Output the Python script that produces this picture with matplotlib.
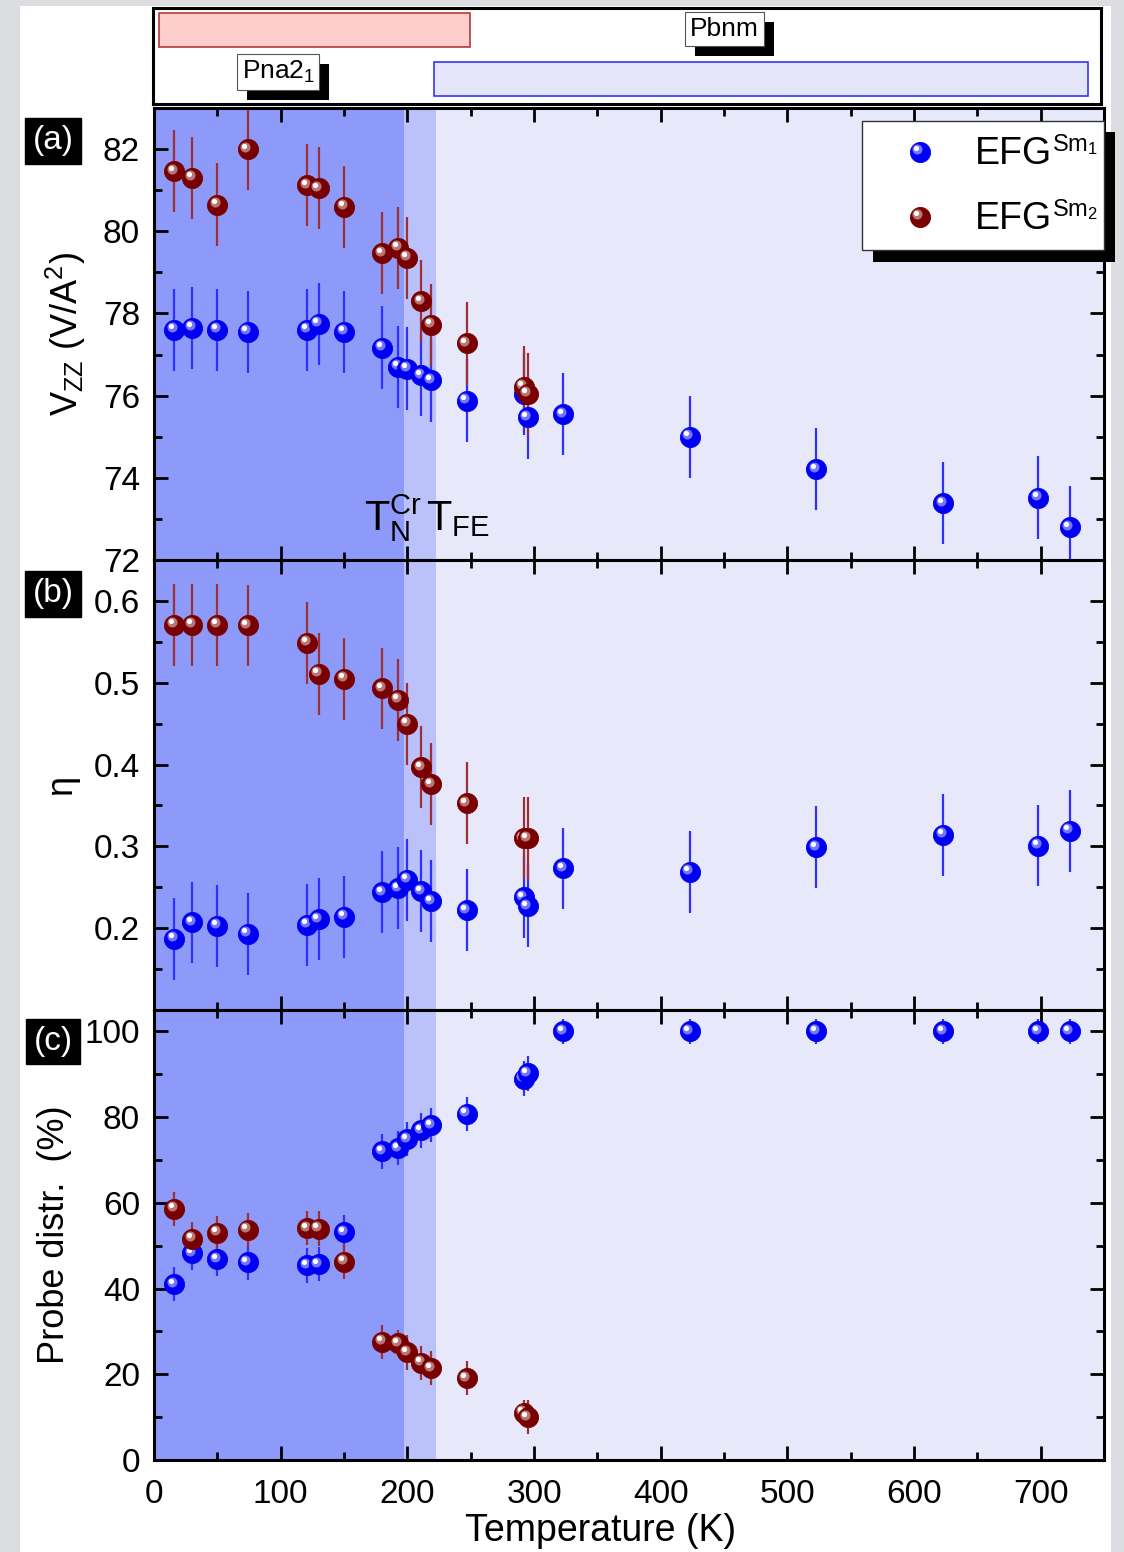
import matplotlib
matplotlib.use("Agg")
import matplotlib.pyplot as plt
from matplotlib.patches import Rectangle
from matplotlib.transforms import offset_copy
from matplotlib.ticker import MultipleLocator

plt.rcParams['font.family'] = ['Liberation Sans', 'DejaVu Sans']
plt.rcParams['mathtext.default'] = 'regular'

# ---------------- data ----------------
temp_sm1 = [16, 30, 50, 74, 121, 130, 150, 180, 193, 200, 211, 219, 247,
            292, 295, 323, 423, 523, 623, 698, 723]
temp_sm2 = [16, 30, 50, 74, 121, 130, 150, 180, 193, 200, 211, 219, 247,
            292, 295]

vzz_sm1 = [77.60, 77.65, 77.60, 77.55, 77.60, 77.75, 77.55, 77.17, 76.70,
           76.66, 76.50, 76.37, 75.88, 76.04, 75.47, 75.55, 75.00, 74.21,
           73.38, 73.52, 72.80]
vzz_sm1_err = [1.0] * 21
vzz_sm2 = [81.46, 81.30, 80.65, 82.00, 81.12, 81.05, 80.60, 79.47, 79.60,
           79.35, 78.30, 77.72, 77.27, 76.22, 76.04]
vzz_sm2_err = [1.0] * 15

eta_sm1 = [0.187, 0.207, 0.203, 0.193, 0.204, 0.211, 0.214, 0.244, 0.249,
           0.259, 0.245, 0.233, 0.222, 0.238, 0.227, 0.273, 0.269, 0.299,
           0.314, 0.301, 0.319]
eta_sm1_err = [0.05] * 21
eta_sm2 = [0.571, 0.571, 0.571, 0.570, 0.549, 0.511, 0.505, 0.493, 0.479,
           0.450, 0.397, 0.376, 0.353, 0.310, 0.310]
eta_sm2_err = [0.05] * 15

frac_sm1 = [41.0, 48.3, 46.9, 46.1, 45.4, 45.7, 53.2, 72.0, 72.8, 74.9,
            76.9, 78.1, 80.8, 89.0, 90.2, 100, 100, 100, 100, 100, 100]
frac_sm1_err = [4, 4, 4, 4, 4, 4, 4, 4, 4, 4, 4, 4, 4, 4, 4, 3, 3, 3, 3, 3, 3]
frac_sm2 = [58.6, 51.6, 53.0, 53.7, 54.1, 54.0, 46.3, 27.6, 27.3, 25.1,
            22.7, 21.4, 19.1, 11.0, 10.0]
frac_sm2_err = [4, 4, 4, 4, 4, 4, 4, 4, 3, 4, 4, 4, 4, 3, 4]

# transition temperatures (K)
t_neel = 197
t_fe = 223

# structural phases: name, temperature range, label position
phase_names = ['Pna2$_1$', 'Pbnm']
phase_tmin = [5, 222]
phase_tmax = [251, 740]
phase_label_t = [99, 452]

# ---------------- style ----------------
BLUE = '#0000F2'
BLUE_MID = '#8A8AFF'
BLUE_ERR = '#2F2FFF'
RED = '#780000'
RED_MID = '#C88A8A'
RED_ERR = '#9E2F35'
BG_DARK = '#8E9AFA'
BG_MID = '#BAC1FB'
BG_LIGHT = '#E8E8FB'

W, H = 1124, 1552
fig = plt.figure(figsize=(W / 100, H / 100), dpi=100, facecolor='#DCDDE0')
fig.patches.append(Rectangle((20 / W, 0), (1111 - 20) / W, 1 - 6 / H,
                             transform=fig.transFigure, facecolor='white',
                             edgecolor='none', zorder=-10))


def fax(x0, y0, x1, y1):
    return fig.add_axes([x0 / W, 1 - y1 / H, (x1 - x0) / W, (y1 - y0) / H])


ax_ph = fax(153, 8, 1101, 104)
ax_a = fax(154, 108, 1104, 560)
ax_b = fax(154, 560, 1104, 1010)
ax_c = fax(154, 1010, 1104, 1460)


def spheres(ax, x, y, base, mid, ms=14.5, z0=6.0, transform=None):
    tr = ax.transData if transform is None else transform
    for i, (xi, yi) in enumerate(zip(x, y)):
        z = z0 + i * 0.01
        ax.plot([xi], [yi], ls='none', marker='o', ms=ms, mfc=base, mec=base,
                mew=0.6, transform=tr, zorder=z, clip_on=False)
        t1 = offset_copy(tr, fig=fig, x=-2.5, y=2.5, units='dots')
        ax.plot([xi], [yi], ls='none', marker='o', ms=ms * 0.5, mfc=mid,
                mec='none', alpha=0.85, transform=t1, zorder=z + 0.001,
                clip_on=False)
        t2 = offset_copy(tr, fig=fig, x=-3.5, y=3.5, units='dots')
        ax.plot([xi], [yi], ls='none', marker='o', ms=ms * 0.26, mfc='white',
                mec='none', transform=t2, zorder=z + 0.002, clip_on=False)


def style_axis(ax, ymaj, ymin):
    ax.set_facecolor(BG_LIGHT)
    ax.axvspan(0, t_neel, color=BG_DARK, lw=0, zorder=0)
    ax.axvspan(t_neel, t_fe, color=BG_MID, lw=0, zorder=0)
    ax.set_xlim(0, 750)
    ax.xaxis.set_major_locator(MultipleLocator(100))
    ax.xaxis.set_minor_locator(MultipleLocator(50))
    ax.yaxis.set_major_locator(MultipleLocator(ymaj))
    ax.yaxis.set_minor_locator(MultipleLocator(ymin))
    ax.tick_params(which='both', direction='in', top=True, right=True,
                   width=2.0, labelsize=24)
    ax.tick_params(axis='y', pad=10)
    ax.tick_params(axis='x', pad=14)
    ax.tick_params(which='major', length=10)
    ax.tick_params(which='minor', length=5.5)
    for s in ax.spines.values():
        s.set_linewidth(2.2)
        s.set_zorder(20)


def draw_series(ax, y1, e1, y2, e2):
    ax.errorbar(temp_sm1, y1, yerr=e1, fmt='none', ecolor=BLUE_ERR,
                elinewidth=1.6, capsize=0, zorder=3)
    ax.errorbar(temp_sm2, y2, yerr=e2, fmt='none', ecolor=RED_ERR,
                elinewidth=1.6, capsize=0, zorder=3)
    spheres(ax, temp_sm1, y1, BLUE, BLUE_MID, z0=6.0)
    spheres(ax, temp_sm2, y2, RED, RED_MID, z0=7.0)


# ---- panel (a): Vzz ----
style_axis(ax_a, 2, 1)
ax_a.set_ylim(72, 83)
draw_series(ax_a, vzz_sm1, vzz_sm1_err, vzz_sm2, vzz_sm2_err)
ax_a.set_ylabel('V$_{ZZ}$ (V/A$^2$)', fontsize=26)
ax_a.yaxis.set_label_coords(-0.07, 0.5)
ax_a.tick_params(labelbottom=False)
ax_a.text(166, 72.73, 'T$_N^{Cr}$', fontsize=30, ha='left', va='baseline',
          zorder=15)
ax_a.text(215, 72.73, 'T$_{FE}$', fontsize=30, ha='left', va='baseline',
          zorder=15)

# legend with drop shadow
tA = ax_a.transAxes
ax_a.add_patch(Rectangle((0.757, 0.660), 0.255, 0.286, transform=tA,
                         facecolor='black', edgecolor='none', zorder=30,
                         clip_on=False))
ax_a.add_patch(Rectangle((0.745, 0.686), 0.255, 0.286, transform=tA,
                         facecolor='white', edgecolor='#333333', lw=1.0,
                         zorder=31, clip_on=False))
spheres(ax_a, [0.806], [0.903], BLUE, BLUE_MID, z0=32, transform=tA)
spheres(ax_a, [0.806], [0.759], RED, RED_MID, z0=32, transform=tA)
for ly, sub in ((0.877, '1'), (0.733, '2')):
    t_efg = ax_a.text(0.864, ly, 'EFG', transform=tA, fontsize=27,
                      ha='left', va='baseline', zorder=33)
    ax_a.annotate('Sm$_' + sub + '$', xy=(1.0, 0.56), xycoords=t_efg,
                  fontsize=17, ha='left', va='baseline', zorder=33,
                  annotation_clip=False)

# ---- panel (b): eta ----
style_axis(ax_b, 0.1, 0.05)
ax_b.set_ylim(0.1, 0.65)
ax_b.set_yticks([0.2, 0.3, 0.4, 0.5, 0.6])
draw_series(ax_b, eta_sm1, eta_sm1_err, eta_sm2, eta_sm2_err)
ax_b.set_ylabel('η', fontsize=26)
ax_b.yaxis.set_label_coords(-0.079, 0.5)
ax_b.tick_params(labelbottom=False)

# ---- panel (c): probe distribution ----
style_axis(ax_c, 20, 10)
ax_c.set_ylim(0, 105)
draw_series(ax_c, frac_sm1, frac_sm1_err, frac_sm2, frac_sm2_err)
ax_c.set_ylabel('Probe distr.  (%)', fontsize=26)
ax_c.yaxis.set_label_coords(-0.086, 0.5)
ax_c.set_xlabel('Temperature (K)', fontsize=27)
ax_c.xaxis.set_label_coords(0.47, -0.118)

# panel tags
for ax, tag, ty in ((ax_a, '(a)', 0.927), (ax_b, '(b)', 0.925),
                    (ax_c, '(c)', 0.93)):
    ax.text(-0.106, ty, tag, transform=ax.transAxes, fontsize=24,
            color='white', ha='center', va='center', zorder=40,
            bbox=dict(boxstyle='square,pad=0.22', facecolor='black',
                      edgecolor='black'))

# ---- structural phase bar ----
ax_ph.set_xlim(0, 750)
ax_ph.set_ylim(0, 1)
ax_ph.set_xticks([])
ax_ph.set_yticks([])
for s in ax_ph.spines.values():
    s.set_linewidth(2.2)
row_y = [(0.594, 0.354), (0.083, 0.355)]
row_style = [dict(facecolor='#FFCCCC', edgecolor='#B23A3A'),
             dict(facecolor='#E6E6FA', edgecolor='#3434FF')]
label_y = [0.333, 0.78]
phase_labels = []
for name, t0, t1, lt, (yb, hh), st, ly in zip(phase_names, phase_tmin,
                                               phase_tmax, phase_label_t,
                                               row_y, row_style, label_y):
    ax_ph.add_patch(Rectangle((t0, yb), t1 - t0, hh, lw=1.2, zorder=2, **st))
    phase_labels.append(
        ax_ph.text(lt, ly, name, fontsize=19, color='black', ha='center',
                   va='center', zorder=4,
                   bbox=dict(boxstyle='square,pad=0.18', facecolor='white',
                             edgecolor='#555555', lw=0.8)))

# solid drop shadows behind the phase labels
fig.canvas.draw()
inv = ax_ph.transAxes.inverted()
for lab in phase_labels:
    bb = lab.get_bbox_patch().get_window_extent()
    (x0, y0), (x1, y1) = inv.transform([(bb.x0 + 10, bb.y0 - 10),
                                        (bb.x1 + 10, bb.y1 - 10)])
    ax_ph.add_patch(Rectangle((x0, y0), x1 - x0, y1 - y0,
                              transform=ax_ph.transAxes, facecolor='black',
                              edgecolor='none', zorder=3))

fig.savefig('out.png', dpi=100, facecolor=fig.get_facecolor())
